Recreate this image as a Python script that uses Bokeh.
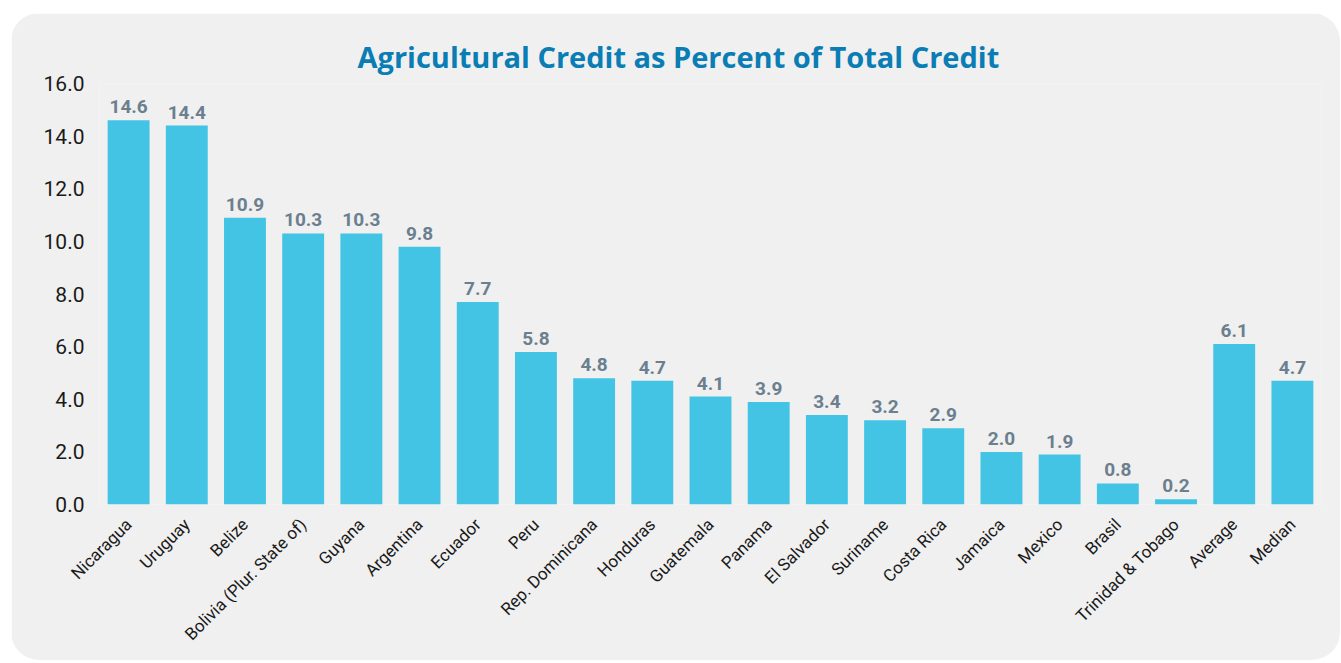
from math import pi
from bokeh.plotting import figure
from bokeh.models import ColumnDataSource, LabelSet, FixedTicker, NumeralTickFormatter
from bokeh.core.properties import value
from bokeh.embed import file_html
from bokeh.resources import INLINE

countries = ["Nicaragua", "Uruguay", "Belize", "Bolivia (Plur. State of)", "Guyana",
             "Argentina", "Ecuador", "Peru", "Rep. Dominicana", "Honduras", "Guatemala",
             "Panama", "El Salvador", "Suriname", "Costa Rica", "Jamaica", "Mexico",
             "Brasil", "Trinidad & Tobago", "Average", "Median"]
values = [14.6, 14.4, 10.9, 10.3, 10.3, 9.8, 7.7, 5.8, 4.8, 4.7, 4.1, 3.9, 3.4,
          3.2, 2.9, 2.0, 1.9, 0.8, 0.2, 6.1, 4.7]
y_ticks = [0, 2, 4, 6, 8, 10, 12, 14, 16]
title_text = "Agricultural Credit as Percent of Total Credit"

BG = "#f0f0f0"
NARROW = "Roboto"

source = ColumnDataSource(dict(x=countries, y=values,
                               lbl=["%.1f" % v for v in values]))

p = figure(x_range=countries, y_range=(0, 16), width=1329, height=647,
           output_backend="svg", toolbar_location=None,
           min_border_left=88, min_border_right=19, min_border_top=70,
           min_border_bottom=156)
p.styles = {"margin-left": "11px", "margin-top": "13px",
            "border-radius": "28px", "overflow": "hidden"}
p.background_fill_color = BG
p.border_fill_color = BG
p.outline_line_color = None
p.xgrid.grid_line_color = None
p.ygrid.grid_line_color = None
p.x_range.range_padding = 0

p.title.text = title_text
p.title.text_font = "Open Sans"
p.title.text_font_style = "bold"
p.title.text_font_size = "29px"
p.title.text_color = "#0a7db5"
p.title.align = "left"
p.title.offset = 258
p.title.standoff = 16

p.vbar(x="x", top="y", width=0.72, source=source, color="#43c4e4", line_color=None)

labels = LabelSet(x="x", y="y", text="lbl", source=source, y_offset=7,
                  text_align="center", text_baseline="bottom",
                  text_font=value(NARROW), text_font_style="bold",
                  text_font_size="19px", text_color="#6b7f8f")
p.add_layout(labels)

p.yaxis.ticker = FixedTicker(ticks=y_ticks)
p.yaxis.formatter = NumeralTickFormatter(format="0.0")
p.yaxis.axis_line_color = None
p.yaxis.major_tick_line_color = None
p.yaxis.minor_tick_line_color = None
p.yaxis.major_label_text_font = NARROW
p.yaxis.major_label_text_font_size = "21px"
p.yaxis.major_label_text_color = "#1a1a1a"
p.yaxis.major_label_standoff = 9

p.xaxis.axis_line_color = None
p.xaxis.major_tick_line_color = None
p.xaxis.major_label_orientation = pi / 4
p.xaxis.major_label_text_font = NARROW
p.xaxis.major_label_text_font_size = "17px"
p.xaxis.major_label_text_color = "#1a1a1a"
p.xaxis.major_label_standoff = 11

open("out.html", "w").write(file_html(p, INLINE))
